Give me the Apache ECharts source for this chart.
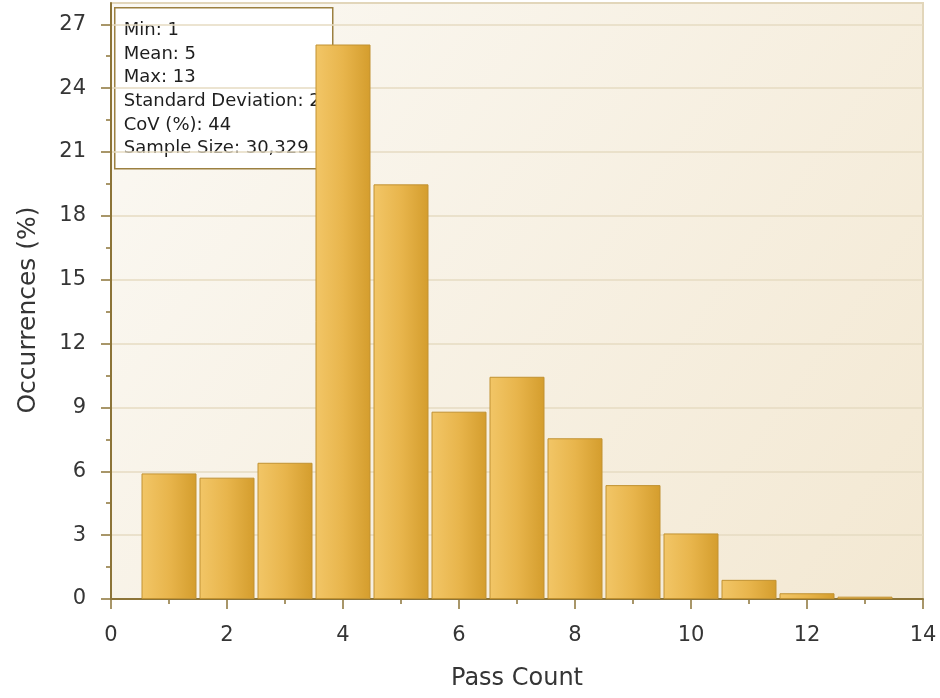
<!DOCTYPE html>
<html>
<head>
<meta charset="utf-8">
<script src="https://cdn.jsdelivr.net/npm/echarts@6/dist/echarts.min.js"></script>
<style>html,body{margin:0;padding:0;background:#fff}#c{width:940px;height:698px}</style>
</head>
<body>
<div id="c"></div>
<script>
const passCounts = [1, 2, 3, 4, 5, 6, 7, 8, 9, 10, 11, 12, 13];
const occurrences = [5.9, 5.7, 6.4, 26.05, 19.48, 8.8, 10.44, 7.55, 5.35, 3.08, 0.9, 0.27, 0.11];
const yTicks = [0, 3, 6, 9, 12, 15, 18, 21, 24, 27];
const xTicks = [0, 2, 4, 6, 8, 10, 12, 14];
const statsLines = ['Min: 1', 'Mean: 5', 'Max: 13', 'Standard Deviation: 2', 'CoV (%): 44', 'Sample Size: 30,329'];

const axisColor = '#8c7438';
const textColor = '#353535';
const font = 'DejaVu Sans';

const chart = echarts.init(document.getElementById('c'), null, {renderer: 'canvas'});
chart.setOption({
  animation: false,
  backgroundColor: '#ffffff',
  grid: {
    left: 111, right: 17, top: 3, bottom: 99,
    show: true,
    borderColor: '#e2d6ba',
    borderWidth: 2,
    backgroundColor: {
      type: 'linear', x: 0, y: 0, x2: 1, y2: 1,
      colorStops: [{offset: 0, color: '#fbf9f4'}, {offset: 1, color: '#f3e8d2'}]
    }
  },
  xAxis: {
    type: 'value', min: 0, max: 14, interval: 2,
    name: 'Pass Count', nameLocation: 'middle', nameGap: 68,
    nameTextStyle: {fontFamily: font, fontSize: 24, color: textColor},
    axisLine: {show: true, lineStyle: {color: axisColor, width: 2}},
    axisTick: {show: true, length: 10, lineStyle: {color: axisColor, width: 1.5}},
    minorTick: {show: true, splitNumber: 2, length: 5, lineStyle: {color: axisColor, width: 1.5}},
    axisLabel: {fontFamily: font, fontSize: 21, color: textColor, margin: 26, customValues: xTicks},
    splitLine: {show: false}
  },
  yAxis: {
    type: 'value', min: 0, max: 28, interval: 3,
    name: 'Occurrences (%)', nameLocation: 'middle', nameGap: 70, nameRotate: 90,
    nameTextStyle: {fontFamily: font, fontSize: 25, color: textColor, padding: [0, 18, 0, 0]},
    axisLine: {show: true, lineStyle: {color: axisColor, width: 2}},
    axisTick: {show: true, length: 10, lineStyle: {color: axisColor, width: 1.5}, customValues: yTicks},
    minorTick: {show: true, splitNumber: 2, length: 5, lineStyle: {color: axisColor, width: 1.5}},
    axisLabel: {fontFamily: font, fontSize: 21, color: textColor, margin: 25, customValues: yTicks},
    splitLine: {show: true, lineStyle: {color: '#e6dbc2', width: 1.5}}
  },
  series: [{
    type: 'bar',
    data: passCounts.map((x, i) => [x, occurrences[i]]),
    barWidth: 55,
    itemStyle: {
      color: {
        type: 'linear', x: 0, y: 0, x2: 1, y2: 0,
        colorStops: [{offset: 0, color: '#f2c667'}, {offset: 0.5, color: '#e8b54c'}, {offset: 1, color: '#d49d2d'}]
      },
      borderColor: '#c19232',
      borderWidth: 1
    }
  }],
  graphic: [{
    type: 'group', left: 114, top: 7,
    children: [
      {type: 'rect', shape: {x: 0, y: 0, width: 218, height: 161},
       style: {fill: '#ffffff', stroke: '#9c8040', lineWidth: 1.5}},
      {type: 'text', left: 9, top: 11,
       style: {text: statsLines.join('\n'), fontFamily: font, fontSize: 18, lineHeight: 23.6, fill: '#1e1e1e'}}
    ]
  }]
});
</script>
</body>
</html>
